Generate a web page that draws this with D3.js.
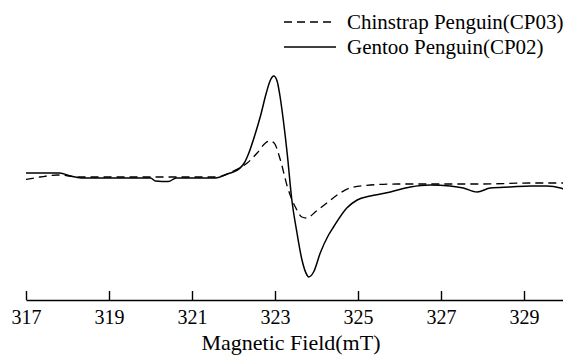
<!DOCTYPE html>
<html lang="en">
<head>
    <meta charset="UTF-8">
    <title>EPR spectra</title>
    <style>
        body { margin: 0; background: #fff; }
        svg { display: block; }
        svg text { font-family: "Liberation Serif", "Times New Roman", "Liberation Sans", Arial, sans-serif; fill: #000; }
        .axis path, .axis line { stroke: #000; stroke-width: 1.4px; }
        .axis text { font-size: 20px; }
        .curve { fill: none; stroke: #000; stroke-width: 1.5px; stroke-linejoin: round; }
        .dashed { stroke-dasharray: 8,5; stroke-width: 1.3px; }
    </style>
</head>
<body>
    <script src="https://d3js.org/d3.v7.min.js"></script>
    <script>
        // magnetic field (mT) and intensity (arb. units)
        var gentooField = [317.0, 317.81, 318.07, 318.33, 320.0, 320.12, 320.43, 320.62, 321.56, 321.92,
            322.0, 322.26, 322.36, 322.53, 322.65, 322.79, 322.88, 322.97, 323.05, 323.12,
            323.20, 323.30, 323.40, 323.53, 323.65, 323.77, 323.81, 323.93, 324.09, 324.29,
            324.41, 324.73, 324.98, 325.30, 325.78, 326.26, 326.74, 327.22, 327.54, 327.87,
            328.19, 328.67, 329.16, 329.55, 329.88, 329.95];
        var gentooSignal = [0.05, 0.05, 0.02, 0.0, 0.0, -0.03, -0.035, 0.0, 0.0, 0.05,
            0.06, 0.15, 0.24, 0.45, 0.62, 0.85, 0.97, 1.02, 0.97, 0.82,
            0.58, 0.22, -0.20, -0.55, -0.82, -0.97, -0.99, -0.94, -0.75, -0.57,
            -0.49, -0.30, -0.22, -0.18, -0.14, -0.09, -0.07, -0.08, -0.10, -0.14,
            -0.10, -0.09, -0.08, -0.08, -0.10, -0.11];

        var chinstrapField = [317.0, 317.34, 317.77, 318.28, 321.56, 322.0, 322.33, 322.57, 322.77, 322.87,
            322.98, 323.13, 323.30, 323.49, 323.65, 323.77, 323.97, 324.25, 324.57, 324.81,
            325.30, 325.94, 326.74, 327.95, 329.15, 329.95];
        var chinstrapSignal = [-0.015, 0.01, 0.03, 0.01, 0.01, 0.07, 0.15, 0.25, 0.35, 0.37,
            0.35, 0.18, -0.09, -0.29, -0.39, -0.40, -0.34, -0.25, -0.15, -0.10,
            -0.07, -0.06, -0.06, -0.06, -0.05, -0.05];

        var tickValues = [317, 319, 321, 323, 325, 327, 329];
        var seriesNames = ["Chinstrap Penguin(CP03)", "Gentoo Penguin(CP02)"];

        var width = 563,
            height = 355;

        var svg = d3.select("body").append("svg")
            .attr("width", width)
            .attr("height", height);

        var x = d3.scaleLinear().domain([317, 330]).range([26, 565.5]);
        var y = d3.scaleLinear().domain([-1.2, 1.2]).range([298, 58]);

        svg.append("g")
            .attr("class", "axis")
            .attr("transform", "translate(0,300)")
            .call(d3.axisBottom(x)
                .tickValues(tickValues)
                .tickSize(-9)
                .tickSizeOuter(0)
                .tickPadding(10)
                .tickFormat(d3.format("d")));

        svg.append("text")
            .attr("x", 291)
            .attr("y", 350)
            .attr("text-anchor", "middle")
            .attr("font-size", "22px")
            .text("Magnetic Field(mT)");

        var line = d3.line()
            .x(function(d) { return x(d[0]); })
            .y(function(d) { return y(d[1]); })
            .curve(d3.curveMonotoneX);

        var gentoo = d3.zip(gentooField, gentooSignal),
            chinstrap = d3.zip(chinstrapField, chinstrapSignal);

        svg.append("path")
            .datum(chinstrap)
            .attr("class", "curve dashed")
            .attr("d", line);

        svg.append("path")
            .datum(gentoo)
            .attr("class", "curve")
            .attr("d", line);

        // legend
        var legend = svg.append("g").selectAll("g")
            .data(seriesNames)
            .join("g")
            .attr("transform", function(d, i) { return "translate(284," + (22 + i * 25) + ")"; });

        legend.append("line")
            .attr("class", function(d, i) { return i === 0 ? "curve dashed" : "curve"; })
            .attr("x1", 0).attr("x2", 52)
            .attr("y1", 0).attr("y2", 0);

        legend.append("text")
            .attr("x", 63)
            .attr("y", 7)
            .attr("font-size", "21px")
            .text(function(d) { return d; });
    </script>
</body>
</html>
